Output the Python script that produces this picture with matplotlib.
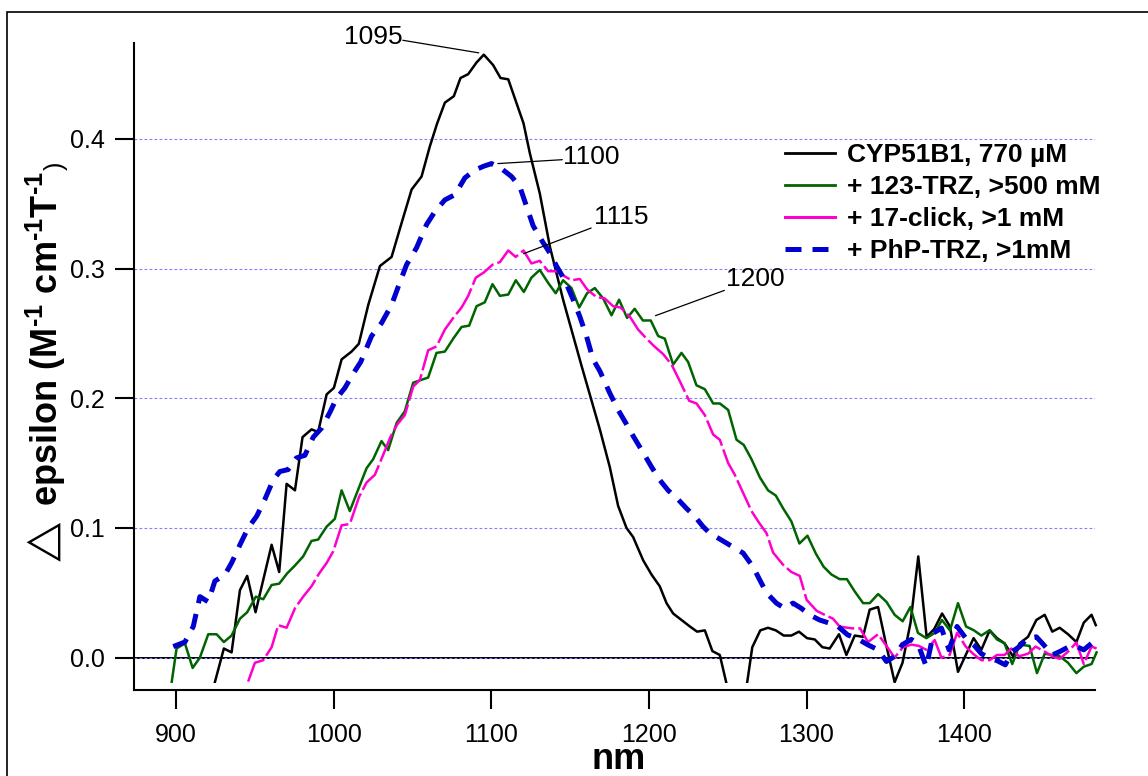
import matplotlib
matplotlib.use("Agg")
import matplotlib.pyplot as plt
from matplotlib.patches import Rectangle
from matplotlib.lines import Line2D
from matplotlib.ticker import FormatStrFormatter

plt.rcParams['font.family'] = ['Liberation Sans', 'DejaVu Sans']
plt.rcParams['mathtext.fontset'] = 'custom'
plt.rcParams['mathtext.rm'] = 'Liberation Sans'
plt.rcParams['mathtext.bf'] = 'Liberation Sans:bold'
plt.rcParams['mathtext.it'] = 'Liberation Sans:italic'

# data (nm, delta epsilon)
black_nm = [924.7, 930.4, 935.3, 940.6, 945.2, 950.5, 955.4, 960.7, 965.5, 970.2, 975.5, 980.3, 986.0, 990.2,
            995.6, 1000.2, 1005.1, 1011.4, 1016.0, 1022.0, 1029.4, 1036.8, 1043.1, 1049.5, 1055.8, 1061.0, 1065.7,
            1070.6, 1076.3, 1080.5, 1085.4, 1090.7, 1095.3, 1101.2, 1105.9, 1110.8, 1120.5, 1124.5, 1130.8, 1137.2,
            1145.6, 1157.3, 1168.9, 1175.2, 1180.5, 1185.8, 1190.0, 1196.4, 1201.7, 1206.9, 1211.2, 1215.4, 1220.7,
            1226.0, 1230.6, 1235.5, 1240.3, 1245.0, 1250.0, 1255.0, 1260.0, 1265.6, 1270.7, 1275.6, 1280.5, 1285.5,
            1290.4, 1295.2, 1300.3, 1305.2, 1310.1, 1314.7, 1320.6, 1325.3, 1330.6, 1335.8, 1340.1, 1345.4, 1350.5,
            1355.9, 1360.9, 1366.0, 1370.9, 1376.2, 1381.0, 1386.0, 1391.0, 1396.1, 1401.0, 1406.0, 1410.9, 1416.2,
            1420.8, 1425.6, 1431.0, 1435.2, 1440.5, 1445.8, 1451.1, 1455.9, 1460.6, 1465.9, 1471.2, 1475.9, 1480.8,
            1483.5]
black_val = [-0.019, 0.007, 0.004, 0.052, 0.063, 0.035, 0.060, 0.087, 0.066, 0.134, 0.129, 0.170, 0.176, 0.174,
             0.203, 0.208, 0.230, 0.236, 0.242, 0.272, 0.302, 0.309, 0.335, 0.361, 0.371, 0.394, 0.412,
             0.428, 0.433, 0.447, 0.450, 0.459, 0.465, 0.457, 0.447, 0.446, 0.412, 0.389, 0.358, 0.317,
             0.276, 0.225, 0.176, 0.147, 0.117, 0.100, 0.093, 0.075, 0.064, 0.055, 0.042, 0.034, 0.029,
             0.024, 0.020, 0.021, 0.005, 0.002, -0.024, -0.060, -0.039, 0.008, 0.021, 0.023, 0.021, 0.017,
             0.017, 0.020, 0.015, 0.014, 0.008, 0.007, 0.018, 0.002, 0.017, 0.016, 0.037, 0.039, 0.010,
             -0.019, -0.004, 0.027, 0.078, 0.016, 0.022, 0.034, 0.024, -0.011, 0.002, 0.015, 0.006, 0.021,
             0.015, 0.011, 0.001, 0.011, 0.016, 0.029, 0.033, 0.020, 0.023, 0.018, 0.012, 0.027, 0.033,
             0.025]

green_nm = [897.3, 900.4, 905.7, 910.6, 915.2, 920.5, 925.8, 930.4, 935.3, 940.6, 945.2, 950.7, 955.4, 960.7,
            965.5, 970.6, 975.5, 980.7, 986.0, 990.2, 995.6, 1000.8, 1005.1, 1010.3, 1016.7, 1020.9, 1025.1,
            1030.4, 1034.6, 1040.0, 1045.2, 1050.5, 1055.2, 1060.0, 1065.3, 1070.6, 1075.9, 1081.2, 1086.0,
            1090.7, 1095.9, 1100.8, 1105.5, 1110.8, 1115.6, 1120.7, 1125.5, 1130.8, 1136.1, 1140.9, 1145.6,
            1150.9, 1155.8, 1160.8, 1165.7, 1171.0, 1176.3, 1181.1, 1186.2, 1191.0, 1196.2, 1201.2, 1205.9,
            1210.1, 1215.4, 1220.7, 1224.9, 1230.2, 1235.5, 1240.8, 1245.0, 1250.3, 1255.6, 1260.2, 1265.1,
            1270.4, 1275.6, 1280.5, 1285.2, 1290.4, 1295.5, 1300.6, 1306.0, 1310.9, 1315.9, 1321.0, 1325.6,
            1330.6, 1335.9, 1340.1, 1345.4, 1350.7, 1355.9, 1361.0, 1365.9, 1370.7, 1376.0, 1381.3, 1385.9,
            1391.0, 1396.1, 1401.2, 1406.2, 1410.9, 1416.0, 1420.8, 1425.6, 1430.5, 1435.2, 1441.5, 1446.2,
            1451.1, 1455.9, 1460.6, 1465.9, 1471.2, 1475.9, 1480.8, 1484.0]
green_val = [-0.019, 0.007, 0.011, -0.008, 0.000, 0.018, 0.018, 0.012, 0.017, 0.030, 0.035, 0.047, 0.045, 0.056,
             0.057, 0.065, 0.071, 0.078, 0.090, 0.091, 0.101, 0.107, 0.129, 0.113, 0.133, 0.146, 0.153,
             0.167, 0.160, 0.181, 0.190, 0.212, 0.214, 0.216, 0.235, 0.236, 0.246, 0.255, 0.256,
             0.271, 0.274, 0.288, 0.279, 0.280, 0.291, 0.282, 0.293, 0.299, 0.289, 0.281, 0.291,
             0.285, 0.270, 0.281, 0.285, 0.277, 0.264, 0.276, 0.262, 0.269, 0.260, 0.260, 0.248,
             0.246, 0.226, 0.235, 0.228, 0.210, 0.207, 0.196, 0.196, 0.191, 0.168, 0.164, 0.153,
             0.139, 0.129, 0.125, 0.115, 0.105, 0.088, 0.094, 0.080, 0.070, 0.064, 0.0605, 0.0605,
             0.051, 0.042, 0.042, 0.049, 0.043, 0.033, 0.028, 0.039, 0.019, 0.015, 0.019, 0.029,
             0.021, 0.042, 0.024, 0.021, 0.017, 0.021, 0.014, 0.011, -0.005, 0.010, 0.009, -0.012,
             0.003, 0.002, 0.001, -0.004, -0.012, -0.007, -0.005, 0.004]

pink_nm = [945.8, 950.1, 955.4, 960.7, 964.9, 970.2, 975.5, 980.7, 986.0, 990.9, 995.6, 999.8, 1005.1, 1010.3,
           1016.2, 1020.9, 1026.2, 1031.0, 1036.0, 1040.5, 1045.2, 1050.5, 1054.7, 1060.0, 1065.3, 1070.6,
           1075.9, 1081.2, 1085.4, 1090.2, 1095.3, 1100.8, 1105.5, 1110.8, 1115.5, 1120.5, 1125.5, 1130.8,
           1136.1, 1141.4, 1146.7, 1150.9, 1156.2, 1160.8, 1166.8, 1172.0, 1177.3, 1182.0, 1187.9, 1193.2,
           1198.5, 1203.5, 1209.1, 1214.4, 1219.7, 1225.6, 1230.2, 1235.5, 1240.8, 1245.0, 1250.3, 1254.5,
           1259.8, 1265.1, 1269.9, 1274.6, 1278.8, 1285.2, 1290.4, 1295.7, 1300.1, 1306.5, 1311.5, 1316.8,
           1321.0, 1326.0, 1329.4, 1334.0, 1339.0, 1345.4, 1350.7, 1355.9, 1361.2, 1366.5, 1371.3, 1376.0,
           1381.3, 1385.6, 1390.8, 1395.5, 1401.0, 1405.6, 1410.9, 1416.2, 1420.8, 1425.6, 1429.9, 1434.8,
           1440.5, 1445.3, 1451.1, 1455.9, 1460.6, 1465.9, 1471.2, 1475.9, 1480.8, 1484.0]
pink_val = [-0.0185, -0.004, -0.002, 0.008, 0.025, 0.023, 0.038, 0.047, 0.055, 0.065, 0.073, 0.082, 0.102, 0.103,
            0.124, 0.135, 0.141, 0.155, 0.170, 0.180, 0.187, 0.209, 0.214, 0.237, 0.240, 0.253,
            0.262, 0.270, 0.279, 0.293, 0.297, 0.303, 0.305, 0.314, 0.309, 0.314, 0.304, 0.306,
            0.298, 0.298, 0.294, 0.291, 0.292, 0.284, 0.278, 0.277, 0.271, 0.270, 0.263, 0.253,
            0.246, 0.240, 0.234, 0.226, 0.213, 0.198, 0.196, 0.187, 0.172, 0.168, 0.150, 0.141,
            0.127, 0.113, 0.104, 0.096, 0.081, 0.0715, 0.066, 0.063, 0.0445, 0.036, 0.033, 0.030,
            0.024, 0.023, 0.0225, 0.0225, 0.012, 0.018, 0.009, 0.000, 0.008, 0.010, 0.009, 0.006,
            0.0135, 0.000, 0.002, 0.019, 0.0085, 0.003, -0.002, -0.002, 0.002, 0.002, 0.007, 0.001,
            0.003, 0.0085, 0.0046, 0.001, -0.001, 0.0046, 0.0116, -0.005, 0.0085, 0.007]

blue_nm = [898.3, 905.7, 911.0, 915.2, 920.5, 924.7, 931.1, 935.3, 940.6, 945.8, 951.2, 956.4, 961.7, 965.9,
           971.2, 976.5, 981.8, 987.1, 992.4, 997.6, 1001.9, 1007.2, 1011.4, 1017.2, 1024.1, 1030.4, 1036.8,
           1041.0, 1046.3, 1052.6, 1059.0, 1064.3, 1070.6, 1077.0, 1083.3, 1089.6, 1095.3, 1100.2, 1105.5,
           1112.9, 1118.2, 1122.4, 1126.6, 1131.9, 1137.2, 1141.4, 1146.7, 1152.0, 1156.2, 1160.4, 1164.6,
           1168.9, 1175.2, 1180.5, 1185.8, 1190.0, 1196.4, 1201.7, 1206.9, 1212.2, 1218.5, 1223.9, 1229.1,
           1234.4, 1238.6, 1245.0, 1252.4, 1259.8, 1266.1, 1270.3, 1274.6, 1280.9, 1286.1, 1291.4, 1296.7,
           1301.9, 1308.3, 1314.7, 1320.0, 1326.1, 1331.6, 1339.0, 1345.4, 1350.7, 1355.9, 1360.8, 1366.5,
           1370.7, 1376.0, 1380.6, 1385.6, 1390.4, 1395.5, 1401.0, 1406.1, 1410.9, 1416.2, 1420.8, 1426.1,
           1430.5, 1435.2, 1440.1, 1445.8, 1450.5, 1455.9, 1460.6, 1465.9, 1471.2, 1475.9, 1480.8, 1484.0]
blue_val = [0.0085, 0.012, 0.024, 0.047, 0.043, 0.059, 0.064, 0.073, 0.087, 0.100, 0.109, 0.122, 0.137, 0.1435,
            0.145, 0.154, 0.156, 0.170, 0.177, 0.189, 0.200, 0.208, 0.217, 0.228, 0.248, 0.258, 0.272,
            0.286, 0.303, 0.316, 0.334, 0.344, 0.353, 0.357, 0.370, 0.376, 0.379, 0.381, 0.378,
            0.371, 0.363, 0.348, 0.333, 0.322, 0.312, 0.302, 0.291, 0.276, 0.263, 0.248, 0.230,
            0.221, 0.204, 0.191, 0.180, 0.171, 0.158, 0.147, 0.137, 0.129, 0.122, 0.115, 0.109,
            0.101, 0.096, 0.0914, 0.086, 0.0806, 0.070, 0.060, 0.050, 0.042, 0.038, 0.042, 0.038,
            0.033, 0.029, 0.0265, 0.024, 0.0175, 0.015, 0.0098, 0.006, -0.003, 0.001, 0.010, 0.014,
            0.0106, -0.007, 0.019, 0.0227, 0.006, 0.024, 0.015, 0.0098, 0.003, -0.0005, -0.0023, -0.0056,
            0.0046, 0.0085, 0.015, 0.016, 0.0098, 0.002, 0.0046, 0.008, 0.0085, 0.006, 0.011, 0.0123]

labels = ['CYP51B1, 770 µM', '+ 123-TRZ, >500 mM', '+ 17-click, >1 mM', '+ PhP-TRZ, >1mM']
yticks = [0.0, 0.1, 0.2, 0.3, 0.4]
xticks = [900, 1000, 1100, 1200, 1300, 1400]

# peak labels: text, point on curve, start of leader line, text centre
peaks = [('1095', (1092.1, 0.4664), (1043.9, 0.4761), (1025.1, 0.479)),
         ('1100', (1104.2, 0.381), (1145.1, 0.384), (1163.6, 0.386)),
         ('1115', (1120.5, 0.3115), (1163.4, 0.3313), (1182.6, 0.340)),
         ('1200', (1204.2, 0.2637), (1247.9, 0.2832), (1267.5, 0.292))]

W, H = 1148, 776
fig = plt.figure(figsize=(W / 100, H / 100), dpi=100)
ax = fig.add_axes([134 / W, (H - 690) / H, (1095 - 134) / W, (690 - 43) / H])
ax.set_xlim(873.4, 1483)
ax.set_ylim(-0.025, 0.474)

# blue dotted grid and the zero line
ax.set_yticks(yticks)
ax.yaxis.grid(True, color='#8080ff', linestyle=(0, (2.5, 2)), linewidth=0.8)
ax.axhline(0, color='black', lw=1.4, zorder=1.5)

black_style = dict(color='black', lw=1.8)
green_style = dict(color='#006400', lw=1.8)
pink_style = dict(color='#ff00cc', lw=1.8, linestyle=(0, (12, 1.6)))
blue_style = dict(color='#0000d0', lw=3.6, linestyle=(0, (3.2, 2.2)))

# plot region stops just below -0.02 (axis is offset a bit)
clip = Rectangle((880, -0.0195), 700, 1, transform=ax.transData)
for x, y, st in [(black_nm, black_val, black_style), (green_nm, green_val, green_style),
                 (pink_nm, pink_val, pink_style), (blue_nm, blue_val, blue_style)]:
    ln, = ax.plot(x, y, **st)
    ln.set_clip_path(clip)

for txt, xy, start, tpos in peaks:
    ax.annotate('', xy=xy, xytext=start, annotation_clip=False,
                arrowprops=dict(arrowstyle='-', lw=0.9, color='black', shrinkA=0, shrinkB=0))
    ax.text(tpos[0], tpos[1], txt, fontsize=19, ha='center', va='center', clip_on=False)

ax.spines['top'].set_visible(False)
ax.spines['right'].set_visible(False)
ax.spines['left'].set_linewidth(1.5)
ax.spines['bottom'].set_linewidth(1.5)
ax.set_xticks(xticks)
ax.yaxis.set_major_formatter(FormatStrFormatter('%.1f'))
ax.tick_params(axis='both', direction='out', length=14, width=1.5, labelsize=18)
ax.tick_params(axis='y', pad=7)
ax.tick_params(axis='x', pad=10)

handles = [Line2D([], [], color='black', lw=2.0), Line2D([], [], color='#006400', lw=2.0),
           Line2D([], [], color='#ff00cc', lw=2.2), Line2D([], [], **blue_style)]
ax.legend(handles, labels, loc='upper left', bbox_to_anchor=(785 / W, 1 - 143 / H),
          bbox_transform=fig.transFigure, frameon=False, borderpad=0, borderaxespad=0,
          handlelength=1.9, handletextpad=0.45, labelspacing=0.3,
          prop={'weight': 'bold', 'size': 19})

fig.text(619 / W, (H - 769) / H, 'nm', fontsize=26, fontweight='bold', ha='center', va='baseline')
hy = '\u2010'
fig.text(47 / W, (H - 569) / H,
         r'$\triangle$ epsilon (M$^{\mathbf{' + hy + r'1}}$ cm$^{\mathbf{' + hy + r'1}}$T$^{\mathbf{' + hy
         + r'1}}$$_{\mathrm{)}}$',
         fontsize=26, fontweight='bold', rotation=90, ha='center', va='bottom')

# outer frame (cut off at right and bottom)
fig.patches.append(Rectangle((7 / W, -0.1), 1.2, 1.1 - 12 / H, transform=fig.transFigure,
                             fill=False, lw=1.2, edgecolor='black'))

fig.savefig('out.png', dpi=100)
